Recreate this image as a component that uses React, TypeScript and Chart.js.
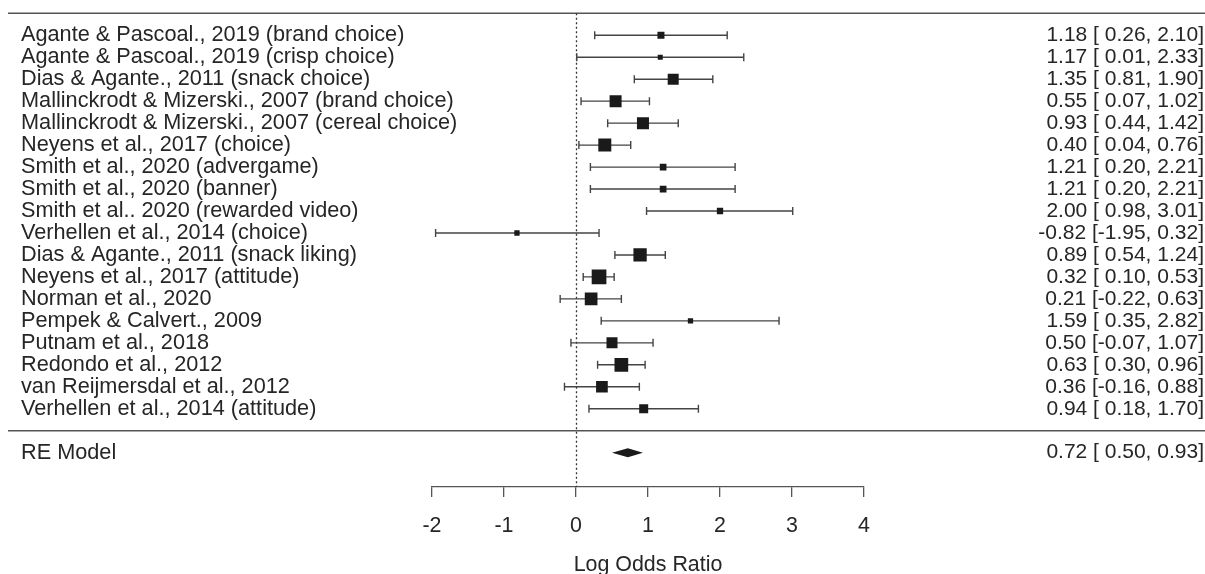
import React, { useEffect, useRef } from "react";
import { Chart, registerables } from "chart.js";

Chart.register(...registerables);

// ---------- data ----------
const studyLabels = [
  "Agante & Pascoal., 2019 (brand choice)",
  "Agante & Pascoal., 2019 (crisp choice)",
  "Dias & Agante., 2011 (snack choice)",
  "Mallinckrodt & Mizerski., 2007 (brand choice)",
  "Mallinckrodt & Mizerski., 2007 (cereal choice)",
  "Neyens et al., 2017 (choice)",
  "Smith et al., 2020 (advergame)",
  "Smith et al., 2020 (banner)",
  "Smith et al.. 2020 (rewarded video)",
  "Verhellen et al., 2014 (choice)",
  "Dias & Agante., 2011 (snack liking)",
  "Neyens et al., 2017 (attitude)",
  "Norman et al., 2020",
  "Pempek & Calvert., 2009",
  "Putnam et al., 2018",
  "Redondo et al., 2012",
  "van Reijmersdal et al., 2012",
  "Verhellen et al., 2014 (attitude)",
];
const estimates = [1.18, 1.17, 1.35, 0.55, 0.93, 0.4, 1.21, 1.21, 2.0, -0.82, 0.89, 0.32, 0.21, 1.59, 0.5, 0.63, 0.36, 0.94];
const lowerCI = [0.26, 0.01, 0.81, 0.07, 0.44, 0.04, 0.2, 0.2, 0.98, -1.95, 0.54, 0.1, -0.22, 0.35, -0.07, 0.3, -0.16, 0.18];
const upperCI = [2.1, 2.33, 1.9, 1.02, 1.42, 0.76, 2.21, 2.21, 3.01, 0.32, 1.24, 0.53, 0.63, 2.82, 1.07, 0.96, 0.88, 1.7];
// relative study weights (box size)
const studyWeights = [7, 5, 11, 12, 12, 13, 6.7, 6.7, 6.3, 5.3, 13.3, 14.7, 12.7, 5.3, 11, 13.7, 11.7, 9];

const summaryLabel = "RE Model";
const summaryEstimate = 0.72;
const summaryLower = 0.5;
const summaryUpper = 0.93;

const xTicks = [-2, -1, 0, 1, 2, 3, 4];
const xTitle = "Log Odds Ratio";

// ---------- styling ----------
const W = 1205;
const H = 574;
const FONT = "'Liberation Sans', Arial, Helvetica, sans-serif";
const FS_LEFT = 21.7;
const FS_RIGHT = 21;
const FS_AXIS = 21.4;
const TEXT = "#262626";
const LINE = "#555555";
const K = studyLabels.length;
// pixel anchors of the row scale (top rule row and separator row)
const TOP_RULE_PX = 13.3;
const SEP_RULE_PX = 430.7;

const f2 = (v: number) => v.toFixed(2);
const annot = (e: number, l: number, u: number) =>
  `${f2(e)} [${l < 0 ? "" : " "}${f2(l)}, ${f2(u)}]`;

const forestPlugin = {
  id: "forest",
  afterLayout(chart: any) {
    const ys = chart.scales.y;
    const { top, bottom } = chart.chartArea;
    const u = (SEP_RULE_PX - TOP_RULE_PX) / (K + 1);
    ys.max = K + 1 + (TOP_RULE_PX - top) / u;
    ys.min = -(bottom - SEP_RULE_PX) / u;
    ys.configure();
  },
  beforeDatasetsDraw(chart: any) {
    const { ctx, scales, chartArea } = chart;
    const xs = scales.x;
    const ys = scales.y;
    ctx.save();
    // top and separator lines
    ctx.strokeStyle = LINE;
    ctx.lineWidth = 1.5;
    [K + 1, 0].forEach((v) => {
      const y = ys.getPixelForValue(v);
      ctx.beginPath();
      ctx.moveTo(8, y);
      ctx.lineTo(W, y);
      ctx.stroke();
    });
    // reference line at 0
    ctx.setLineDash([2, 2.5]);
    ctx.lineWidth = 1.3;
    ctx.strokeStyle = "#333";
    const x0 = Math.round(xs.getPixelForValue(0)) + 0.5;
    ctx.beginPath();
    ctx.moveTo(x0, ys.getPixelForValue(K + 1));
    ctx.lineTo(x0, chartArea.bottom);
    ctx.stroke();
    ctx.setLineDash([]);
    // CIs
    ctx.strokeStyle = "#444";
    ctx.lineWidth = 1.4;
    for (let i = 0; i < K; i++) {
      const y = ys.getPixelForValue(K - i);
      const xl = xs.getPixelForValue(lowerCI[i]);
      const xu = xs.getPixelForValue(upperCI[i]);
      ctx.beginPath();
      ctx.moveTo(xl, y);
      ctx.lineTo(xu, y);
      ctx.moveTo(xl, y - 4);
      ctx.lineTo(xl, y + 4);
      ctx.moveTo(xu, y - 4);
      ctx.lineTo(xu, y + 4);
      ctx.stroke();
    }
    ctx.restore();
  },
  afterDatasetsDraw(chart: any) {
    const { ctx, scales } = chart;
    const xs = scales.x;
    const ys = scales.y;
    ctx.save();
    // summary diamond
    const ySum = ys.getPixelForValue(-1);
    ctx.fillStyle = "#1a1a1a";
    ctx.beginPath();
    ctx.moveTo(xs.getPixelForValue(summaryLower), ySum);
    ctx.lineTo(xs.getPixelForValue(summaryEstimate), ySum - 4.5);
    ctx.lineTo(xs.getPixelForValue(summaryUpper), ySum);
    ctx.lineTo(xs.getPixelForValue(summaryEstimate), ySum + 4.5);
    ctx.closePath();
    ctx.fill();
    // labels
    ctx.fillStyle = TEXT;
    ctx.textBaseline = "middle";
    const leftFont = `${FS_LEFT}px ${FONT}`;
    const rightFont = `${FS_RIGHT}px ${FONT}`;
    for (let i = 0; i < K; i++) {
      const y = ys.getPixelForValue(K - i);
      ctx.font = leftFont;
      ctx.textAlign = "left";
      ctx.fillText(studyLabels[i], 21, y);
      ctx.font = rightFont;
      ctx.textAlign = "right";
      ctx.fillText(annot(estimates[i], lowerCI[i], upperCI[i]), 1204, y);
    }
    ctx.font = leftFont;
    ctx.textAlign = "left";
    ctx.fillText(summaryLabel, 21, ySum);
    ctx.font = rightFont;
    ctx.textAlign = "right";
    ctx.fillText(annot(summaryEstimate, summaryLower, summaryUpper), 1204, ySum);
    ctx.restore();
  },
};

export default function App() {
  const ref = useRef<HTMLCanvasElement | null>(null);
  useEffect(() => {
    if (!ref.current) return;
    const chart = new Chart(ref.current, {
      type: "scatter",
      data: {
        datasets: [
          {
            data: estimates.map((e, i) => ({ x: e, y: K - i })),
            pointStyle: "rect",
            pointRadius: studyWeights.map((s) => s / Math.SQRT2),
            pointHoverRadius: studyWeights.map((s) => s / Math.SQRT2),
            backgroundColor: "#1a1a1a",
            borderWidth: 0,
          },
        ],
      },
      options: {
        animation: false,
        responsive: false,
        events: [],
        layout: { padding: { left: 432, right: W - 864, top: 4, bottom: 0 } },
        plugins: { legend: { display: false }, tooltip: { enabled: false } },
        scales: {
          x: {
            type: "linear",
            min: -2,
            max: 4,
            afterBuildTicks: (s: any) => {
              s.ticks = xTicks.map((v) => ({ value: v }));
            },
            afterFit: (s: any) => {
              s.height = 87;
            },
            border: { display: true, color: LINE, width: 1.3 },
            grid: {
              display: true,
              drawOnChartArea: false,
              drawTicks: true,
              tickLength: 10,
              color: LINE,
              lineWidth: 1.3,
            },
            ticks: {
              padding: 16,
              color: TEXT,
              font: { family: FONT, size: FS_AXIS },
              maxRotation: 0,
              callback: (v: any) => String(v),
            },
            title: {
              display: true,
              text: xTitle,
              color: TEXT,
              font: { family: FONT, size: FS_AXIS },
              padding: { top: 0, bottom: -4 },
            },
          },
          y: { type: "linear", display: false, min: -2.6, max: 19.4 },
        },
      },
      plugins: [forestPlugin],
    });
    return () => chart.destroy();
  }, []);
  return (
    <div style={{ position: "absolute", left: 0, top: 0, width: W, height: H, background: "#fff" }}>
      <canvas ref={ref} width={W} height={H} style={{ width: W, height: H, display: "block" }} />
    </div>
  );
}
